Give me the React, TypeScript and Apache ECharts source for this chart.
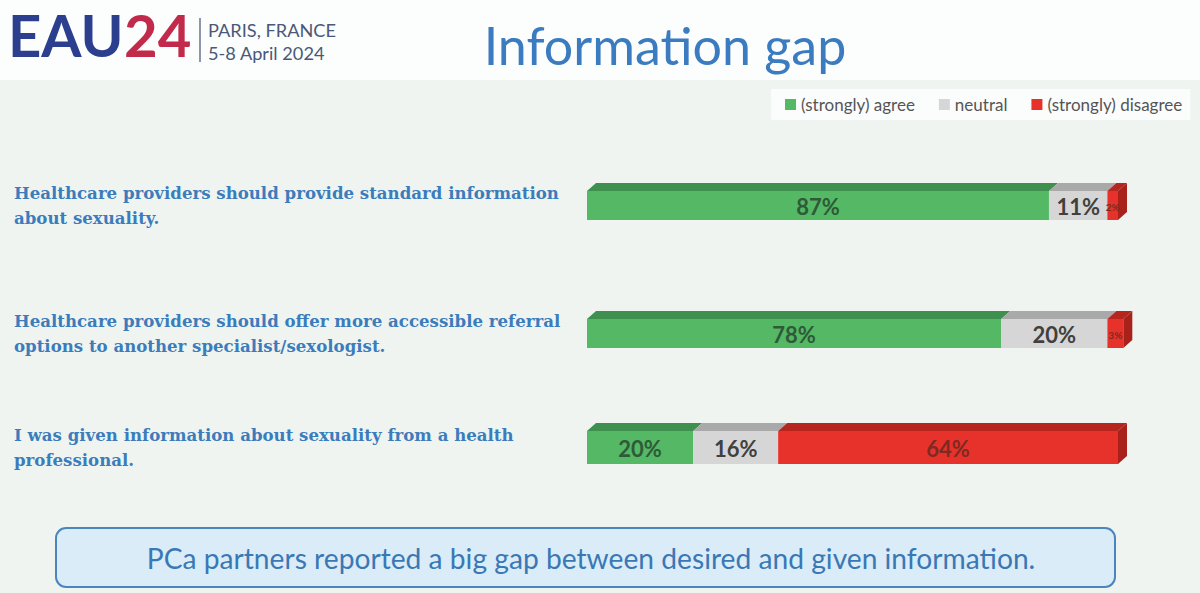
import React, { useEffect, useRef } from "react";
import * as echarts from "echarts";

// Survey statements (line breaks as printed on the slide)
const QUESTIONS = [
  "Healthcare providers should provide standard information\nabout sexuality.",
  "Healthcare providers should offer more accessible referral\noptions to another specialist/sexologist.",
  "I was given information about sexuality from a health\nprofessional.",
];

// Share of respondents (%) per answer group
const AGREE = [87, 78, 20];
const NEUTRAL = [11, 20, 16];
const DISAGREE = [2, 3, 64];

const LEGEND_NAMES = ["(strongly) agree", "neutral", "(strongly) disagree"];

const SANS = "Lato, 'Open Sans', sans-serif";
const SERIF = "'DejaVu Serif', 'Liberation Serif', serif";

// Colour sets: front face, top face, side face, label text
const PALETTE = [
  { front: "#54b865", top: "#3f8f4f", side: "#3a8549", label: "#2e5a38" },
  { front: "#d6d6d6", top: "#a9a9a9", side: "#9a9a9a", label: "#404040" },
  { front: "#e6322a", top: "#b6261f", side: "#a8221b", label: "#7d2a22" },
];

// Vertical placement of each statement row (front face) and label nudge
const ROWS = [
  { top: 191, height: 29, labelShift: 0 },
  { top: 319, height: 29, labelShift: 0 },
  { top: 431, height: 33, labelShift: 14 },
];

const DEPTH_X = 9;
const DEPTH_Y = 8;

export default function App() {
  const ref = useRef<HTMLDivElement>(null);

  useEffect(() => {
    if (!ref.current) return;
    const chart = echarts.init(ref.current, null, { renderer: "svg" });
    const groups = [AGREE, NEUTRAL, DISAGREE];

    const grids: any[] = [];
    const xAxes: any[] = [];
    const yAxes: any[] = [];
    const series: any[] = [];

    QUESTIONS.forEach((q, i) => {
      grids.push({ left: 587, right: 82, top: ROWS[i].top, height: ROWS[i].height });
      xAxes.push({ type: "value", gridIndex: i, min: 0, max: 100, show: false });
      yAxes.push({
        type: "category",
        gridIndex: i,
        data: [q],
        axisLine: { show: false },
        axisTick: { show: false },
        splitLine: { show: false },
        axisLabel: {
          align: "left",
          margin: 573,
          color: "#3b7cbc",
          fontFamily: SERIF,
          fontWeight: "bold",
          fontSize: 16.6,
          lineHeight: 25,
          padding: [ROWS[i].labelShift, 0, 0, 0],
        },
      });

      let acc = 0;
      groups.forEach((vals, k) => {
        const start = acc;
        const end = acc + vals[i];
        acc = end;
        const pal = PALETTE[k];
        const isLast = k === groups.length - 1;
        series.push({
          type: "custom",
          name: LEGEND_NAMES[k],
          xAxisIndex: i,
          yAxisIndex: i,
          itemStyle: { color: pal.front },
          encode: { x: [0, 1], y: 2 },
          data: [[start, end, 0, vals[i]]],
          renderItem: (params: any, api: any) => {
            const s = api.coord([api.value(0), api.value(2)]);
            const e = api.coord([api.value(1), api.value(2)]);
            const h = api.size([0, 1])[1];
            const x0 = s[0];
            const x1 = e[0];
            const y0 = s[1] - h / 2;
            const y1 = s[1] + h / 2;
            const w = x1 - x0;
            const children: any[] = [
              {
                type: "polygon",
                shape: {
                  points: [
                    [x0, y0],
                    [x1, y0],
                    [x1 + DEPTH_X, y0 - DEPTH_Y],
                    [x0 + DEPTH_X, y0 - DEPTH_Y],
                  ],
                },
                style: { fill: pal.top },
              },
              {
                type: "rect",
                shape: { x: x0, y: y0, width: w, height: h },
                style: { fill: pal.front },
              },
            ];
            if (isLast) {
              children.push({
                type: "polygon",
                shape: {
                  points: [
                    [x1, y0],
                    [x1 + DEPTH_X, y0 - DEPTH_Y],
                    [x1 + DEPTH_X, y1 - DEPTH_Y],
                    [x1, y1],
                  ],
                },
                style: { fill: pal.side },
              });
            }
            const small = w < 30;
            children.push({
              type: "text",
              style: {
                text: api.value(3) + "%",
                x: (x0 + x1) / 2,
                y: (y0 + y1) / 2 + 1,
                align: "center",
                verticalAlign: "middle",
                fontFamily: SANS,
                fontWeight: "bold",
                fontSize: small ? 10 : 22,
                fill: pal.label,
              },
            });
            return { type: "group", children };
          },
        });
      });
    });

    chart.setOption({
      animation: false,
      backgroundColor: "#eff4f1",
      graphic: [
        // white header band
        { type: "rect", z: -10, shape: { x: 0, y: 0, width: 1200, height: 80 }, style: { fill: "#fcfdfd" } },
        // congress logo
        { type: "text", style: { text: "EAU", x: 8, y: 63, fill: "#2b3f8e", fontFamily: SANS, fontWeight: "bold", fontSize: 58, verticalAlign: "bottom" } },
        { type: "text", style: { text: "24", x: 124, y: 63, fill: "#c22a4b", fontFamily: SANS, fontWeight: "bold", fontSize: 58, verticalAlign: "bottom" } },
        { type: "line", shape: { x1: 200, y1: 18, x2: 200, y2: 62 }, style: { stroke: "#6a7393", lineWidth: 1.5 } },
        { type: "text", style: { text: "PARIS, FRANCE", x: 208, y: 30, fill: "#4b5877", fontFamily: SANS, fontSize: 18.2, verticalAlign: "middle" } },
        { type: "text", style: { text: "5-8 April 2024", x: 208, y: 53, fill: "#4b5877", fontFamily: SANS, fontSize: 18.2, verticalAlign: "middle" } },
        // slide title
        { type: "text", style: { text: "Information gap", x: 665, y: 45, fill: "#3b7cc0", fontFamily: SANS, fontSize: 52, align: "center", verticalAlign: "middle" } },
        // key message box
        {
          type: "rect",
          shape: { x: 56, y: 528, width: 1059, height: 59, r: 10 },
          style: { fill: "#d9ecf7", stroke: "#4a86bd", lineWidth: 2 },
        },
        {
          type: "text",
          style: {
            text: "PCa partners reported a big gap between desired and given information.",
            x: 591,
            y: 558,
            fill: "#3a78b5",
            fontFamily: SANS,
            fontSize: 28.2,
            align: "center",
            verticalAlign: "middle",
          },
        },
      ],
      legend: {
        data: LEGEND_NAMES,
        left: 771,
        top: 89,
        padding: [7, 8, 7, 14],
        backgroundColor: "#fbfcfc",
        icon: "rect",
        itemWidth: 11,
        itemHeight: 11,
        itemGap: 24,
        textStyle: { color: "#555555", fontFamily: SANS, fontSize: 17 },
        selectedMode: false,
      },
      grid: grids,
      xAxis: xAxes,
      yAxis: yAxes,
      series,
    });

    return () => chart.dispose();
  }, []);

  return (
    <div
      ref={ref}
      style={{ position: "fixed", left: 0, top: 0, width: 1200, height: 593 }}
    />
  );
}
